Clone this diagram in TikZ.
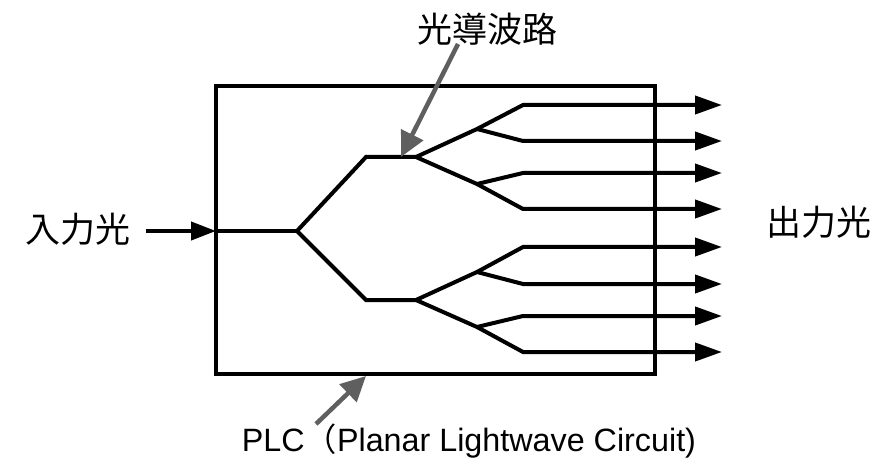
\documentclass[tikz,border=0pt]{standalone}
\usepackage{fontspec}
\setmainfont{Liberation Sans}
\newfontfamily\cjk{Noto Sans CJK JP}
\usetikzlibrary{arrows.meta}
\definecolor{deepgray}{HTML}{5F5F5F}
\tikzset{
  caption/.style={inner sep=0pt,font=\fontsize{35}{40}\selectfont\cjk},
  guide/.style={draw=black,line width=4pt,line join=miter},
  outguide/.style={guide,-{Triangle[length=27pt,width=18pt]}},
  pointer/.style={-{Triangle[length=25pt,width=24pt]},draw=deepgray,line width=4.5pt}
}
\begin{document}
\begin{tikzpicture}[x=1pt,y=-1pt]
  \useasboundingbox (0,0) rectangle (889,473);
  \node[draw=black,line width=4pt,minimum width=439pt,minimum height=288pt,
        inner sep=0pt,outer sep=0pt,anchor=north west] (plc) at (216,86) {};

  \node[caption] (input) at (78,229) {入力光};
  \node[caption] (output) at (819,222) {出力光};
  \node[caption] (wave) at (487,29) {光導波路};
  \node[inner sep=0pt,font=\fontsize{32.3}{38}\selectfont] (name) at (469,441)
    {PLC{\cjk （}Planar Lightwave Circuit)};

  \coordinate (instart) at (146,231);
  \coordinate (inport) at (216,231);
  \coordinate (split) at (297,231);
  \coordinate (upa) at (366,157);
  \coordinate (upb) at (416,157);
  \coordinate (loa) at (366,300);
  \coordinate (lob) at (416,300);
  \coordinate (upj) at (477,129);
  \coordinate (umj) at (477,184);
  \coordinate (lmj) at (477,272);
  \coordinate (loj) at (477,327);
  \coordinate (bend1) at (523,105);
  \coordinate (bend2) at (523,141);
  \coordinate (bend3) at (523,173);
  \coordinate (bend4) at (523,209);
  \coordinate (bend5) at (523,247);
  \coordinate (bend6) at (523,284);
  \coordinate (bend7) at (523,316);
  \coordinate (bend8) at (523,352);
  \coordinate (end1) at (722,105);
  \coordinate (end2) at (722,141);
  \coordinate (end3) at (722,173);
  \coordinate (end4) at (722,209);
  \coordinate (end5) at (722,247);
  \coordinate (end6) at (722,284);
  \coordinate (end7) at (722,316);
  \coordinate (end8) at (722,352);
  \coordinate (wavefrom) at (458,44);
  \coordinate (waveto) at (401,157);
  \coordinate (namefrom) at (316,424);
  \coordinate (nameto) at (366,376);

  \draw[guide,-{Triangle[length=25pt,width=18pt]}] (instart)--(inport);
  \draw[guide] (inport)--(split);
  \draw[guide] (upb)--(upa)--(split)--(loa)--(lob);

  \draw[outguide] (upb)--(upj)--(bend1)--(end1);
  \draw[outguide] (upj)--(bend2)--(end2);
  \draw[outguide] (upb)--(umj)--(bend4)--(end4);
  \draw[outguide] (umj)--(bend3)--(end3);
  \draw[outguide] (lob)--(lmj)--(bend5)--(end5);
  \draw[outguide] (lmj)--(bend6)--(end6);
  \draw[outguide] (lob)--(loj)--(bend8)--(end8);
  \draw[outguide] (loj)--(bend7)--(end7);

  \draw[pointer] (wavefrom)--(waveto);
  \draw[pointer] (namefrom)--(nameto);
\end{tikzpicture}
\end{document}
